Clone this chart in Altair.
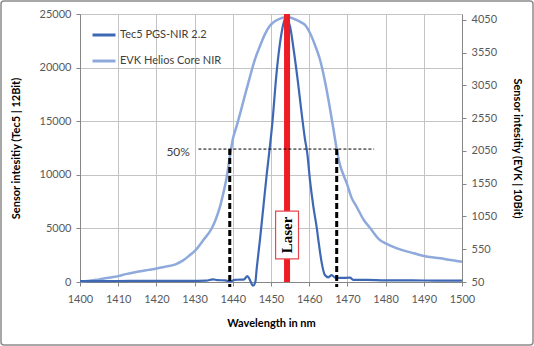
import altair as alt
import pandas as pd

# ---------------- data ----------------
series_names = ["Tec5 PGS-NIR 2.2", "EVK Helios Core NIR"]
series_colors = ["#3F68B4", "#8EA9DB"]

# Tec5 PGS-NIR 2.2 (left axis, 12 bit)
tec5_nm = [1400, 1405, 1410, 1415, 1420, 1425, 1430, 1433, 1434.8, 1436, 1438, 1439.3,
           1440.5, 1442, 1443, 1443.8, 1444.4, 1445.3, 1445.9, 1446.3, 1447.1, 1448.0,
           1448.9, 1449.6, 1450.4, 1451.2, 1452.0, 1452.8, 1453.5, 1454.0, 1454.6, 1455.0,
           1456.0, 1457.0, 1458.0, 1458.9, 1459.5, 1460.2, 1461.1, 1462.0, 1462.4, 1463.3,
           1464.1, 1465.0, 1465.9, 1466.8, 1468.0, 1470.7, 1471.5, 1475, 1480, 1485, 1490,
           1495, 1500]
tec5_val = [80, 80, 90, 100, 100, 100, 110, 120, 250, 180, 150, 50,
            200, 220, 250, 560, 250, -350, 0, 1400, 3900, 7000,
            10100, 12300, 15000, 18500, 21300, 23300, 24400, 24700, 24300, 23800,
            21500, 18800, 15800, 13300, 12000, 9500, 7000, 5000, 3900, 1740,
            650, 440, 650, 400, 380, 400, 190, 200, 150, 150, 140,
            130, 130]

# EVK Helios Core NIR (right axis, 10 bit)
evk_nm = [1400, 1402, 1405, 1408, 1410, 1412, 1415, 1418, 1420, 1422, 1425, 1427,
          1428.8, 1430, 1432.3, 1434.5, 1435.5, 1436.65, 1437.5, 1438.4, 1439.2, 1440,
          1441, 1442, 1443, 1444.5, 1445.8, 1447.1, 1448.4, 1449.7, 1451, 1452.4, 1453.7,
          1455, 1456.5, 1458, 1458.9, 1460.2, 1461.5, 1462.8, 1464, 1465.2, 1466.3,
          1467.2, 1468, 1469, 1470, 1471, 1472.4, 1474.3, 1476, 1478.5, 1480, 1483,
          1487.4, 1490, 1494.4, 1497, 1500]
evk_val = [60, 65, 90, 120, 140, 170, 205, 235, 255, 280, 320, 380,
           462, 520, 691, 870, 1000, 1200, 1400, 1650, 1950, 2230,
           2430, 2640, 2860, 3184, 3450, 3650, 3830, 3960, 4030, 4070, 4091,
           4088, 4055, 4010, 3974, 3850, 3668, 3450, 3150, 2780, 2400,
           2080, 1850, 1680, 1530, 1350, 1200, 997, 870, 691, 640, 564,
           488, 447, 412, 385, 360]

x_ticks = list(range(1400, 1501, 10))
left_ticks = [0, 5000, 10000, 15000, 20000, 25000]
right_ticks = [50, 550, 1050, 1550, 2050, 2550, 3050, 3550, 4050]

# annotations
laser_nm = 1454.2
laser_label = "Laser"
laser_box_nm = [1451.2, 1457.2]
laser_box_val = [2150, 6620]
laser_text_val = 4385
half_level = 12400
half_label = "50%"
half_label_nm = 1425.7
half_label_val = 12100
half_line_nm = [1431, 1477]
half_marks_nm = [1439.2, 1467.2]
half_marks_bottom = -470

FONT = "Lato"

tec5_df = pd.DataFrame({"wl": tec5_nm, "v": tec5_val, "series": series_names[0]})
evk_df = pd.DataFrame({"wl": evk_nm, "v": evk_val, "series": series_names[1]})

x_scale = alt.Scale(domain=[1400, 1500], nice=False, zero=False)
left_scale = alt.Scale(domain=[0, 25000], nice=False)
right_scale = alt.Scale(domain=[50, 4141], nice=False, zero=False)
color_scale = alt.Scale(domain=series_names, range=series_colors)

legend = alt.Legend(
    title=None, orient="none", legendX=11, legendY=8, symbolType="stroke",
    symbolSize=529, symbolStrokeWidth=3, labelFont=FONT, labelFontSize=11,
    labelColor="#404040", rowPadding=7, labelOffset=3, padding=0,
)

x_axis = alt.Axis(values=x_ticks, tickCount=len(x_ticks) + 1, format="d",
                  title="Wavelength in nm", grid=True, labelPadding=7,
                  titlePadding=13, labelOverlap=False, labelFlush=False)
left_axis = alt.Axis(values=left_ticks, tickCount=len(left_ticks) + 1, format="d",
                     orient="left", grid=True,
                     title="Sensor intesitiy (Tec5 | 12Bit)",
                     labelPadding=5, titlePadding=18, labelFlush=False)
right_axis = alt.Axis(values=right_ticks, tickCount=len(right_ticks) + 1, format="d",
                      orient="right", grid=False,
                      title="Sensor intesitiy (EVK | 10Bit)",
                      labelPadding=5, titlePadding=15, labelFlush=False,
                      labelOverlap=False)


def X(field):
    return alt.X(field, scale=x_scale, axis=x_axis)


def YL(field):
    return alt.Y(field, scale=left_scale, axis=left_axis)


evk_line = alt.Chart(evk_df).mark_line(strokeWidth=2.5, interpolate="monotone").encode(
    x=X("wl:Q"),
    y=alt.Y("v:Q", scale=right_scale, axis=right_axis),
    color=alt.Color("series:N", scale=color_scale, legend=legend),
)

tec5_line = alt.Chart(tec5_df).mark_line(strokeWidth=2.2, interpolate="monotone").encode(
    x=X("wl:Q"),
    y=YL("v:Q"),
    color=alt.Color("series:N", scale=color_scale, legend=legend),
)

laser_df = pd.DataFrame({"wl": [laser_nm]})
laser_rule = alt.Chart(laser_df).mark_rule(color="#EE1C25", strokeWidth=6).encode(
    x=X("wl:Q"),
)

half_df = pd.DataFrame({"x1": [half_line_nm[0]], "x2": [half_line_nm[1]], "v": [half_level]})
half_rule = alt.Chart(half_df).mark_rule(color="black", strokeWidth=1, strokeDash=[3, 2]).encode(
    x=X("x1:Q"),
    x2="x2:Q",
    y=YL("v:Q"),
)

marks_df = pd.DataFrame({"wl": half_marks_nm, "top": [half_level] * 2,
                         "bottom": [half_marks_bottom] * 2})
half_marks = alt.Chart(marks_df).mark_rule(color="black", strokeWidth=3, strokeDash=[6, 3]).encode(
    x=X("wl:Q"),
    y=YL("top:Q"),
    y2="bottom:Q",
)

box_df = pd.DataFrame({"x1": [laser_box_nm[0]], "x2": [laser_box_nm[1]],
                       "y1": [laser_box_val[0]], "y2": [laser_box_val[1]]})
laser_box = alt.Chart(box_df).mark_rect(fill="white", stroke="#E8474E", strokeWidth=1.2).encode(
    x=X("x1:Q"), x2="x2:Q",
    y=YL("y1:Q"), y2="y2:Q",
)

ltext_df = pd.DataFrame({"wl": [laser_nm], "v": [laser_text_val], "t": [laser_label]})
laser_text = alt.Chart(ltext_df).mark_text(
    angle=270, font="Liberation Serif", fontWeight="bold", fontSize=15, color="black",
    align="center", baseline="middle",
).encode(
    x=X("wl:Q"),
    y=YL("v:Q"),
    text="t:N",
)

htext_df = pd.DataFrame({"wl": [half_label_nm], "v": [half_label_val], "t": [half_label]})
half_text = alt.Chart(htext_df).mark_text(
    font=FONT, fontSize=12, color="#404040", align="center", baseline="middle",
).encode(
    x=X("wl:Q"),
    y=YL("v:Q"),
    text="t:N",
)

frame = alt.Chart(laser_df).mark_rect(
    fill="transparent", stroke="#8C8C8C", strokeWidth=1.5, cornerRadius=3,
).encode(
    x=alt.value(-79), x2=alt.value(382 + 71), y=alt.value(-13), y2=alt.value(268 + 63),
)

front = alt.layer(tec5_line, laser_rule, half_rule, half_marks, laser_box, laser_text,
                  half_text, frame)

chart = alt.layer(evk_line, front).resolve_scale(y="independent").properties(
    width=382, height=268,
    autosize=alt.AutoSizeParams(type="none"),
    padding={"left": 80, "top": 14, "right": 72, "bottom": 64},
    background="white",
).configure_view(strokeWidth=0).configure_axis(
    labelFont=FONT, labelFontSize=11, labelColor="#595959",
    titleFont=FONT, titleFontSize=11, titleFontWeight="bold", titleColor="black",
    domainColor="#868686", tickColor="#868686", tickSize=4,
    gridColor="#C4C4C4", gridWidth=1,
)

chart.save("out.html", embed_options={"renderer": "svg", "actions": False})
